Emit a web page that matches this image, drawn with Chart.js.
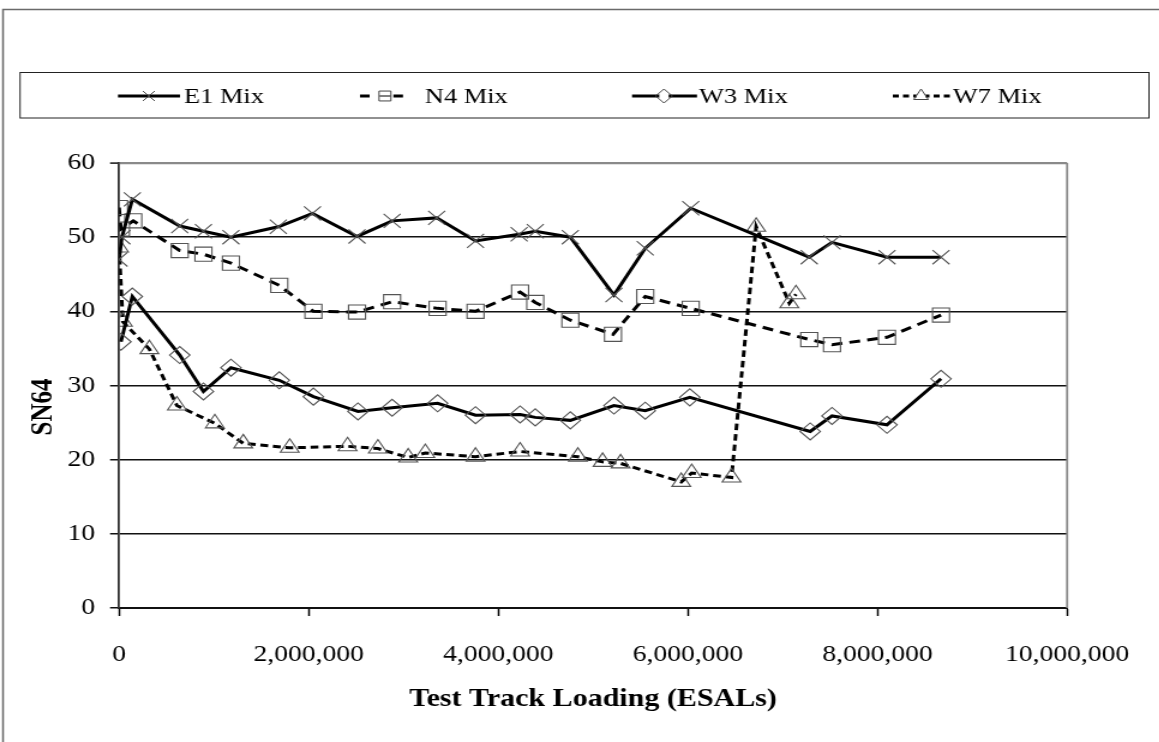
<!DOCTYPE html>
<html><head><meta charset="utf-8">
<script src="https://cdn.jsdelivr.net/npm/chart.js@4.4.0/dist/chart.umd.min.js"></script>
<style>
html,body{margin:0;padding:0;background:#fff;overflow:hidden;}
#wrap{width:966px;height:742px;transform:scaleX(1.2);transform-origin:0 0;}
canvas{display:block;}
</style></head><body>
<div id="wrap"><canvas id="c" width="966" height="742"></canvas></div>
<script>
const seriesNames = ['E1 Mix', 'N4 Mix', 'W3 Mix', 'W7 Mix'];

const e1Loading = [0, 30000, 140000, 640000, 890000, 1180000, 1680000, 2040000, 2510000, 2880000, 3350000, 3760000, 4220000, 4390000, 4760000, 5220000, 5550000, 6030000, 7280000, 7520000, 8100000, 8670000];
const e1SN = [47.0, 50.0, 55.1, 51.5, 50.8, 50.0, 51.4, 53.2, 50.1, 52.2, 52.6, 49.5, 50.4, 50.8, 50.0, 42.2, 48.5, 53.9, 47.3, 49.3, 47.3, 47.3];

const n4Loading = [0, 20000, 150000, 640000, 890000, 1180000, 1690000, 2050000, 2510000, 2880000, 3360000, 3760000, 4230000, 4390000, 4760000, 5210000, 5550000, 6030000, 7280000, 7520000, 8100000, 8670000];
const n4SN = [54.0, 51.1, 52.2, 48.2, 47.7, 46.5, 43.5, 40.0, 39.9, 41.3, 40.4, 40.0, 42.6, 41.2, 38.8, 36.9, 42.0, 40.4, 36.2, 35.5, 36.5, 39.5];

const w3Loading = [20000, 140000, 640000, 890000, 1180000, 1690000, 2050000, 2520000, 2880000, 3360000, 3760000, 4230000, 4390000, 4760000, 5220000, 5550000, 6020000, 7290000, 7520000, 8100000, 8670000];
const w3SN = [35.9, 42.0, 34.1, 29.2, 32.4, 30.7, 28.5, 26.5, 27.0, 27.6, 26.0, 26.1, 25.7, 25.3, 27.3, 26.6, 28.4, 23.8, 25.9, 24.7, 30.9];

const w7Loading = [0, 40000, 320000, 610000, 1010000, 1310000, 1800000, 2410000, 2730000, 3050000, 3230000, 3760000, 4230000, 4840000, 5100000, 5290000, 5930000, 6040000, 6460000, 6720000, 7070000, 7140000];
const w7SN = [48.6, 38.6, 34.9, 27.3, 24.9, 22.2, 21.6, 21.8, 21.5, 20.3, 20.9, 20.4, 21.1, 20.4, 19.7, 19.5, 17.0, 18.2, 17.6, 51.4, 41.1, 42.3];

const xTickValues = [0, 2000000, 4000000, 6000000, 8000000, 10000000];
const yTickValues = [0, 10, 20, 30, 40, 50, 60];
const xAxisTitle = 'Test Track Loading (ESALs)';
const yAxisTitle = 'SN64';

const FONT = "'Liberation Serif','Times New Roman',serif";
const toPoints = (xs, ys) => xs.map((x, i) => ({x: x, y: ys[i]}));

const styles = [
  {pointStyle: 'crossRot', dash: [], legendDash: [], radius: 10},
  {pointStyle: 'rect', dash: [9, 6], legendDash: [8, 6], radius: 10},
  {pointStyle: 'rectRot', dash: [], legendDash: [], radius: 8.5},
  {pointStyle: 'triangle', dash: [6.5, 4], legendDash: [5, 3.5], radius: 9}
];
const seriesData = [toPoints(e1Loading, e1SN), toPoints(n4Loading, n4SN), toPoints(w3Loading, w3SN), toPoints(w7Loading, w7SN)];

function drawMarker(ctx, style, x, y, r) {
  ctx.beginPath();
  if (style === 'crossRot') {
    const d = r * Math.SQRT1_2;
    ctx.moveTo(x - d, y - d); ctx.lineTo(x + d, y + d);
    ctx.moveTo(x - d, y + d); ctx.lineTo(x + d, y - d);
  } else if (style === 'rect') {
    const s = r * Math.SQRT1_2;
    ctx.rect(x - s, y - s, 2 * s, 2 * s);
  } else if (style === 'rectRot') {
    ctx.moveTo(x, y - r); ctx.lineTo(x + r, y); ctx.lineTo(x, y + r); ctx.lineTo(x - r, y); ctx.closePath();
  } else if (style === 'triangle') {
    ctx.moveTo(x, y - r); ctx.lineTo(x + r * 0.87, y + r * 0.5); ctx.lineTo(x - r * 0.87, y + r * 0.5); ctx.closePath();
  }
  ctx.stroke();
}

const legendLayout = [
  {x0: 98.3, x1: 150, mx: 124, tx: 153.3},
  {x0: 300, x1: 341, mx: 320.8, tx: 354},
  {x0: 526.7, x1: 580.8, mx: 553.3, tx: 582.5},
  {x0: 744, x1: 793, mx: 767.5, tx: 794}
];

const framePlugin = {
  id: 'frame',
  beforeDraw(chart) {
    const ctx = chart.ctx;
    ctx.save();
    ctx.fillStyle = '#fff';
    ctx.fillRect(0, 0, chart.width, chart.height);
    ctx.strokeStyle = '#6a6a6a';
    ctx.lineWidth = 1.5;
    ctx.strokeRect(2.5, 9.5, chart.width + 20, chart.height + 20);
    ctx.strokeStyle = '#222';
    ctx.lineWidth = 1;
    ctx.strokeRect(16.7, 72.5, 940.8, 45.5);
    ctx.restore();
  },
  beforeDatasetsDraw(chart) {
    const ctx = chart.ctx, a = chart.chartArea;
    ctx.save();
    ctx.strokeStyle = '#888';
    ctx.lineWidth = 1.8;
    ctx.beginPath();
    ctx.moveTo(a.right, a.top);
    ctx.lineTo(a.right, a.bottom);
    ctx.stroke();
    ctx.restore();
  },
  afterDraw(chart) {
    const ctx = chart.ctx;
    ctx.save();
    const ly = 96;
    seriesNames.forEach((name, i) => {
      const L = legendLayout[i], st = styles[i];
      ctx.strokeStyle = '#000';
      ctx.lineWidth = 3;
      ctx.setLineDash(st.legendDash);
      ctx.beginPath();
      if (i === 1) {
        ctx.moveTo(L.x0, ly); ctx.lineTo(L.mx - 7, ly);
        ctx.moveTo(L.mx + 7, ly); ctx.lineTo(L.x1, ly);
      } else {
        ctx.moveTo(L.x0, ly); ctx.lineTo(L.x1, ly);
      }
      ctx.stroke();
      ctx.setLineDash([]);
      ctx.fillStyle = '#fff';
      ctx.strokeStyle = '#444';
      ctx.lineWidth = 1;
      if (st.pointStyle === 'rect') {
        ctx.fillRect(L.mx - 4.5, ly - 5.5, 9, 11);
      } else if (st.pointStyle !== 'crossRot') {
        ctx.beginPath();
        ctx.arc(L.mx, ly, 4, 0, Math.PI * 2);
        ctx.fill();
      }
      drawMarker(ctx, st.pointStyle, L.mx, ly, 7);
      if (st.pointStyle === 'rect') {
        ctx.strokeStyle = '#000';
        ctx.beginPath(); ctx.moveTo(L.mx - 4.5, ly); ctx.lineTo(L.mx + 4.5, ly); ctx.stroke();
      }
      ctx.fillStyle = '#000';
      ctx.font = '22px ' + FONT;
      ctx.textAlign = 'left';
      ctx.textBaseline = 'middle';
      ctx.fillText(name, L.tx, ly + 1);
    });
    ctx.translate(36.7, 407);
    ctx.rotate(-Math.PI / 2);
    ctx.font = 'bold 25px ' + FONT;
    ctx.textAlign = 'center';
    ctx.textBaseline = 'middle';
    ctx.fillStyle = '#000';
    ctx.fillText(yAxisTitle, 0, 0);
    ctx.restore();
  }
};

new Chart(document.getElementById('c'), {
  type: 'line',
  data: {
    datasets: seriesNames.map((name, i) => ({
      label: name,
      data: seriesData[i],
      borderColor: '#000',
      borderWidth: 3,
      borderDash: styles[i].dash,
      backgroundColor: 'rgba(0,0,0,0)',
      fill: false,
      tension: 0,
      pointStyle: styles[i].pointStyle,
      pointRadius: styles[i].radius,
      pointHoverRadius: styles[i].radius,
      pointBorderColor: '#555',
      pointBorderWidth: 1.1,
      pointBackgroundColor: 'rgba(0,0,0,0)'
    }))
  },
  options: {
    responsive: false,
    animation: false,
    devicePixelRatio: 1,
    layout: {padding: {top: 163, right: 59.3, bottom: 0, left: 0}},
    plugins: {legend: {display: false}, tooltip: {enabled: false}, title: {display: false}},
    scales: {
      x: {
        type: 'linear',
        min: 0, max: 10000000,
        afterBuildTicks(scale) { scale.ticks = xTickValues.map(v => ({value: v})); },
        afterFit(scale) { scale.height = 134; },
        grid: {drawOnChartArea: false, drawTicks: true, tickLength: 8, tickColor: '#000', tickWidth: 1.5},
        border: {display: true, color: '#111', width: 2},
        ticks: {
          color: '#000', font: {family: FONT, size: 23}, padding: 25, maxRotation: 0, autoSkip: false,
          callback: v => Number(v).toLocaleString('en-US')
        },
        title: {display: true, text: xAxisTitle, color: '#000', font: {family: FONT, size: 25, weight: 'bold'}, padding: {top: 0, bottom: 27}}
      },
      y: {
        type: 'linear',
        min: 0, max: 60,
        afterBuildTicks(scale) { scale.ticks = yTickValues.map(v => ({value: v})); },
        afterFit(scale) { scale.width = 99.2; },
        grid: {
          color: c => (c.tick && c.tick.value === 60) ? '#8a8a8a' : '#111',
          lineWidth: c => (c.tick && c.tick.value === 60) ? 2.2 : 1.5,
          drawTicks: true, tickLength: 7.5, tickColor: '#111', tickWidth: 1.5
        },
        border: {display: true, color: '#333', width: 1.8},
        ticks: {color: '#000', font: {family: FONT, size: 23}, padding: 12.5, autoSkip: false},
        title: {display: false}
      }
    }
  },
  plugins: [framePlugin]
});
</script>
</body></html>
